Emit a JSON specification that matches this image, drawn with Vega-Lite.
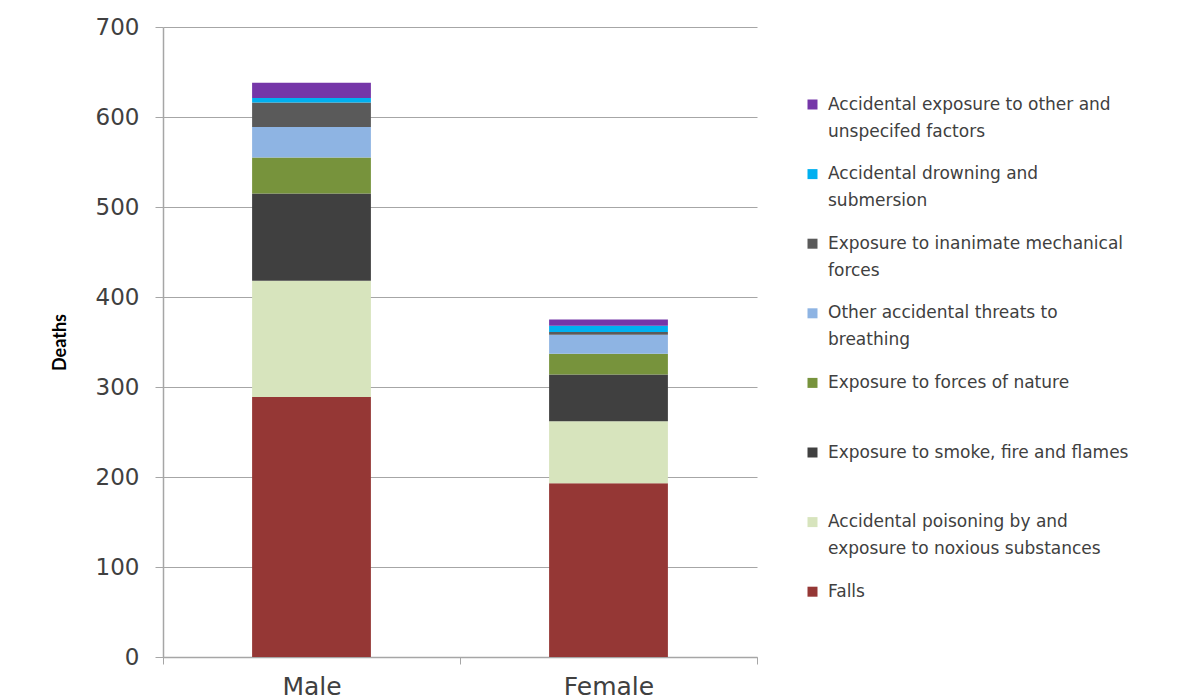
{
  "$schema": "https://vega.github.io/schema/vega-lite/v6.json",
  "autosize": "none",
  "width": 594,
  "height": 630,
  "padding": {"left": 163, "top": 27, "right": 427, "bottom": 42},
  "background": "white",
  "data": {
    "values": [
      {"sex": "Male", "cause": "Falls", "rank": 1, "deaths": 289},
      {"sex": "Male", "cause": "Accidental poisoning by and exposure to noxious substances", "rank": 2, "deaths": 129},
      {"sex": "Male", "cause": "Exposure to smoke, fire and flames", "rank": 3, "deaths": 97},
      {"sex": "Male", "cause": "Exposure to forces of nature", "rank": 4, "deaths": 40},
      {"sex": "Male", "cause": "Other accidental threats to breathing", "rank": 5, "deaths": 34},
      {"sex": "Male", "cause": "Exposure to inanimate mechanical forces", "rank": 6, "deaths": 27},
      {"sex": "Male", "cause": "Accidental drowning and submersion", "rank": 7, "deaths": 5},
      {"sex": "Male", "cause": "Accidental exposure to other and unspecifed factors", "rank": 8, "deaths": 17},
      {"sex": "Female", "cause": "Falls", "rank": 1, "deaths": 193},
      {"sex": "Female", "cause": "Accidental poisoning by and exposure to noxious substances", "rank": 2, "deaths": 69},
      {"sex": "Female", "cause": "Exposure to smoke, fire and flames", "rank": 3, "deaths": 52},
      {"sex": "Female", "cause": "Exposure to forces of nature", "rank": 4, "deaths": 23},
      {"sex": "Female", "cause": "Other accidental threats to breathing", "rank": 5, "deaths": 21},
      {"sex": "Female", "cause": "Exposure to inanimate mechanical forces", "rank": 6, "deaths": 3},
      {"sex": "Female", "cause": "Accidental drowning and submersion", "rank": 7, "deaths": 7},
      {"sex": "Female", "cause": "Accidental exposure to other and unspecifed factors", "rank": 8, "deaths": 7}
    ]
  },
  "mark": {"type": "bar", "width": {"band": 0.4}},
  "encoding": {
    "x": {
      "field": "sex",
      "type": "nominal",
      "sort": ["Male", "Female"],
      "scale": {"paddingInner": 0, "paddingOuter": 0},
      "axis": {
        "title": null,
        "labelAngle": 0,
        "labelFont": "DejaVu Sans",
        "labelFontSize": 25,
        "labelColor": "#404040",
        "labelPadding": 10,
        "tickBand": "extent",
        "tickSize": 7,
        "tickColor": "#a6a6a6",
        "domainColor": "#a6a6a6",
        "domainWidth": 1.5
      }
    },
    "y": {
      "field": "deaths",
      "type": "quantitative",
      "stack": "zero",
      "scale": {"domain": [0, 700], "nice": false},
      "axis": {
        "title": "Deaths",
        "values": [0, 100, 200, 300, 400, 500, 600, 700],
        "titleFont": "Lato",
        "titleFontSize": 18,
        "titleFontWeight": "bold",
        "titleColor": "#000000",
        "titlePadding": 26,
        "labelFont": "DejaVu Sans",
        "labelFontSize": 23,
        "labelColor": "#404040",
        "labelPadding": 16,
        "tickSize": 8,
        "tickColor": "#a6a6a6",
        "domainColor": "#a6a6a6",
        "domainWidth": 1.5,
        "gridColor": "#a6a6a6",
        "gridWidth": 1.2
      }
    },
    "order": {"field": "rank", "type": "quantitative", "sort": "ascending"},
    "color": {
      "field": "cause",
      "type": "nominal",
      "scale": {
        "domain": [
          "Accidental exposure to other and unspecifed factors",
          "Accidental drowning and submersion",
          "Exposure to inanimate mechanical forces",
          "Other accidental threats to breathing",
          "Exposure to forces of nature",
          "Exposure to smoke, fire and flames",
          "Accidental poisoning by and exposure to noxious substances",
          "Falls"
        ],
        "range": ["#7536a8", "#00b0f0", "#5a5a5a", "#8eb4e3", "#77933c", "#404040", "#d7e4bd", "#953735"]
      },
      "legend": {
        "title": null,
        "orient": "none",
        "legendX": 641,
        "legendY": 69,
        "symbolType": "square",
        "symbolSize": 100,
        "symbolStrokeWidth": 0,
        "labelFont": "DejaVu Sans",
        "labelFontSize": 17,
        "labelColor": "#404040",
        "labelLimit": 400,
        "labelOffset": 7,
        "rowPadding": 24.6,
        "labelBaseline": "top",
        "labelExpr": "datum.label == 'Accidental exposure to other and unspecifed factors' ? ['Accidental exposure to other and', 'unspecifed factors'] : datum.label == 'Accidental drowning and submersion' ? ['Accidental drowning and', 'submersion'] : datum.label == 'Exposure to inanimate mechanical forces' ? ['Exposure to inanimate mechanical', 'forces'] : datum.label == 'Other accidental threats to breathing' ? ['Other accidental threats to', 'breathing'] : datum.label == 'Accidental poisoning by and exposure to noxious substances' ? ['Accidental poisoning by and', 'exposure to noxious substances'] : [datum.label, ' ']",
        "encode": {
          "labels": {"update": {"lineHeight": {"value": 27}, "dy": {"value": -8}}}
        }
      }
    }
  },
  "config": {
    "view": {"stroke": null},
    "axis": {"grid": true},
    "axisX": {"grid": false}
  }
}
